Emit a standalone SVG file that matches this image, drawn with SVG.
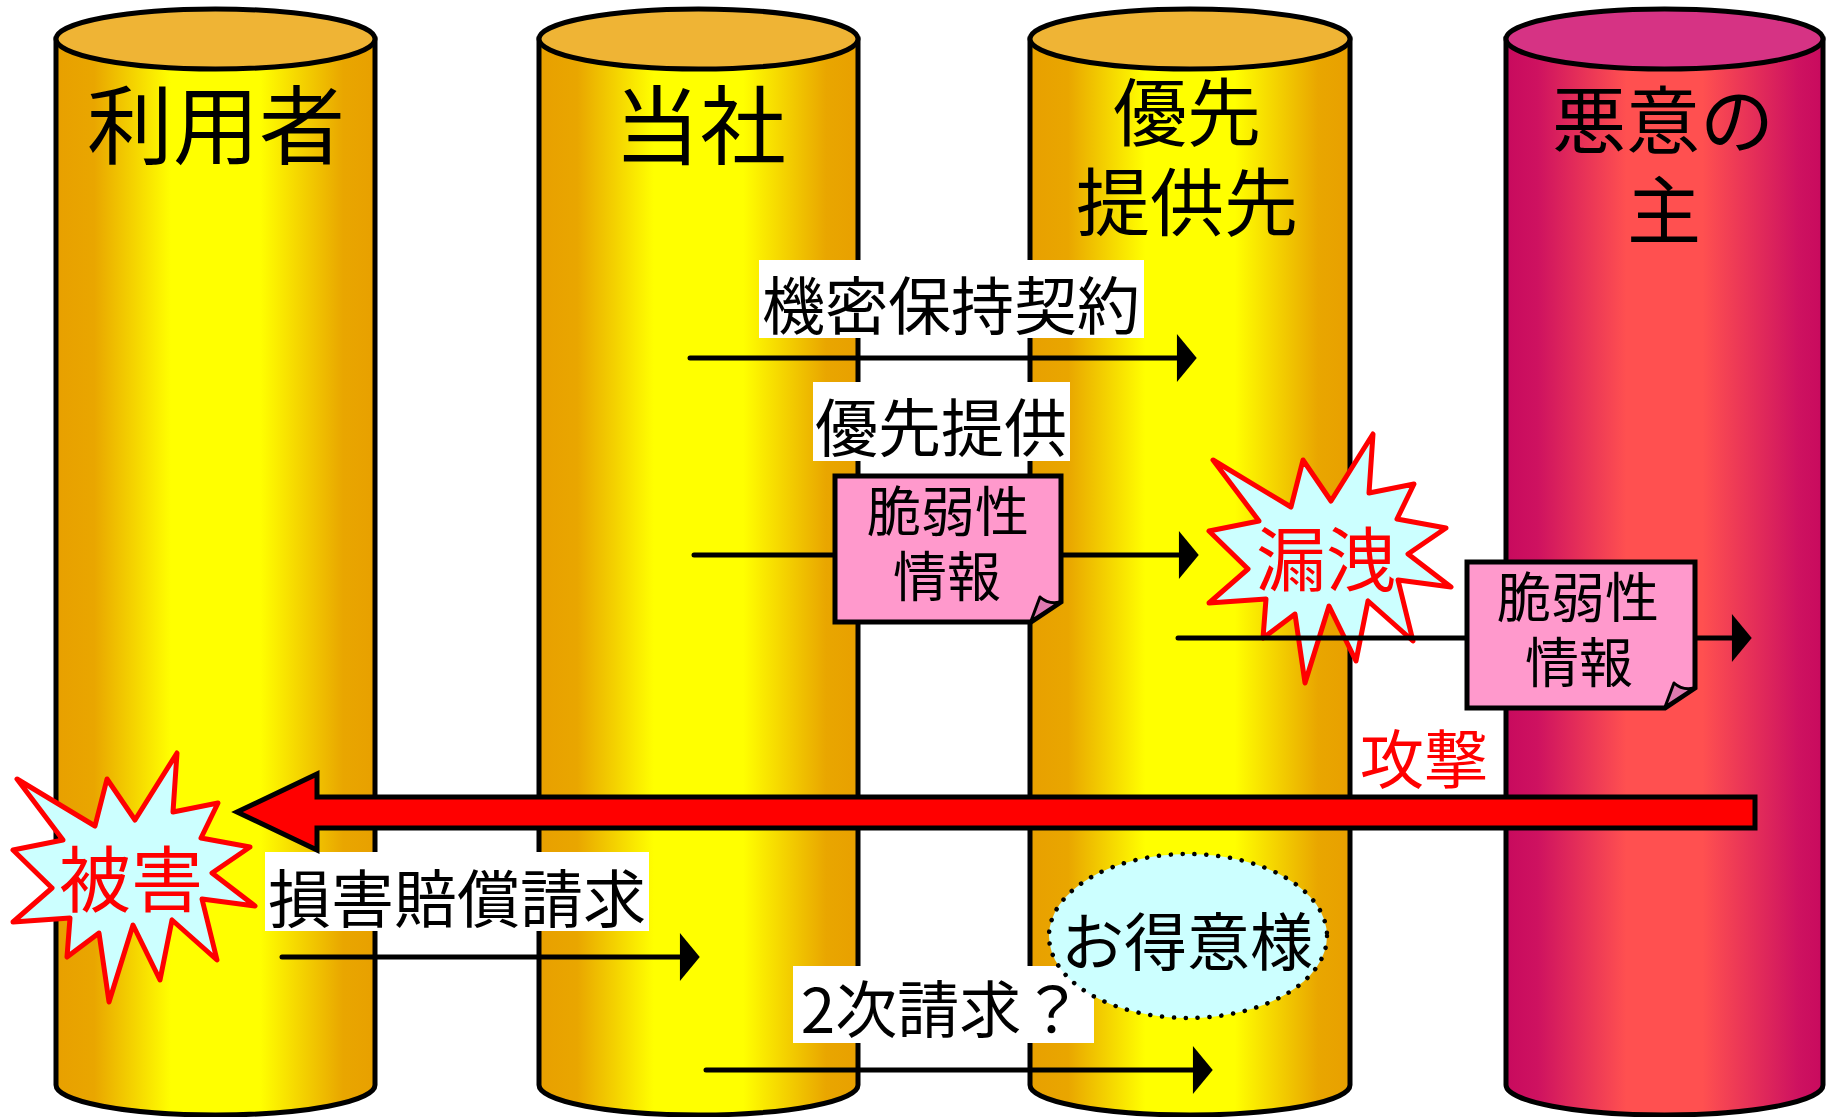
<svg xmlns="http://www.w3.org/2000/svg" width="1827" height="1117" viewBox="0 0 1827 1117">
<style>
.t{font-family:'Noto Sans CJK JP','Noto Sans CJK SC',sans-serif;text-anchor:middle;fill:#000}
.red{fill:#FF0000}
.cyl{stroke:#000;stroke-width:5}
.lbl{fill:#fff}
.doc{fill:#FF99CC;stroke:#000;stroke-width:5;stroke-linejoin:miter}
.fold{fill:#E07AB0;stroke:#000;stroke-width:3;stroke-linejoin:round}
.burst{fill:#CCFFFF;stroke:#FF0000;stroke-width:5;stroke-linejoin:round}
.ln{stroke:#000;stroke-width:5;stroke-linecap:round;fill:none}
</style>
<defs>
<linearGradient id="gy" x1="0" y1="0" x2="1" y2="0">
<stop offset="0" stop-color="#E8A000"/><stop offset="0.12" stop-color="#E9A600"/>
<stop offset="0.36" stop-color="#FFFF00"/><stop offset="0.64" stop-color="#FFFF00"/>
<stop offset="0.9" stop-color="#E9A600"/><stop offset="1" stop-color="#E8A000"/>
</linearGradient>
<linearGradient id="gr" x1="0" y1="0" x2="1" y2="0">
<stop offset="0" stop-color="#C80A5E"/><stop offset="0.1" stop-color="#CE1260"/>
<stop offset="0.38" stop-color="#FF5050"/><stop offset="0.62" stop-color="#FF5050"/>
<stop offset="0.92" stop-color="#CE1260"/><stop offset="1" stop-color="#C80A5E"/>
</linearGradient>
<marker id="ah" markerUnits="userSpaceOnUse" markerWidth="24" markerHeight="48" viewBox="0 0 20 46" refX="2" refY="23" orient="auto">
<path d="M0,0 L19,23 L0,46 Z" fill="#000"/>
</marker>
<path id="burst" d="M17,779 L95,826 L107,779 L135,820 L177,753 L173,812 L218,803 L201,838 L250,847 L212,873 L255,906 L202,899 L217,960 L172,920 L160,980 L133,925 L109,1002 L99,933 L67,957 L70,918 L13,922 L52,888 L13,850 L63,840 Z"/>
</defs>
<rect width="1827" height="1117" fill="#fff"/>

<g id="user">
<path class="cyl" fill="url(#gy)" d="M56,39 V1085 A159.5,30 0 0 0 375,1085 V39 Z"/>
<ellipse class="cyl" fill="#EFB435" cx="215.5" cy="39" rx="159.5" ry="30"/>
<text class="t" x="216" y="158" font-size="86">利用者</text>
</g>
<g id="company">
<path class="cyl" fill="url(#gy)" d="M539,39 V1085 A159.5,30 0 0 0 858,1085 V39 Z"/>
<ellipse class="cyl" fill="#EFB435" cx="698.5" cy="39" rx="159.5" ry="30"/>
<text class="t" x="700" y="158" font-size="86">当社</text>
</g>
<g id="priority">
<path class="cyl" fill="url(#gy)" d="M1030,39 V1085 A160,30 0 0 0 1350,1085 V39 Z"/>
<ellipse class="cyl" fill="#EFB435" cx="1190" cy="39" rx="160" ry="30"/>
<text class="t" x="1187" y="140" font-size="74">優先</text>
<text class="t" x="1187" y="230" font-size="74">提供先</text>
</g>
<g id="malicious">
<path class="cyl" fill="url(#gr)" d="M1506,39 V1085 A158.5,30 0 0 0 1823,1085 V39 Z"/>
<ellipse class="cyl" fill="#D63384" cx="1664.5" cy="39" rx="158.5" ry="30"/>
<text class="t" x="1663" y="148" font-size="74">悪意の</text>
<text class="t" x="1664" y="238" font-size="74">主</text>
</g>

<g id="label-nda">
<rect class="lbl" x="759" y="260" width="385" height="78"/>
<text class="t" x="951" y="329" font-size="63">機密保持契約</text>
</g>
<g id="label-priority">
<rect class="lbl" x="813" y="382" width="257" height="79"/>
<text class="t" x="941" y="451" font-size="63">優先提供</text>
</g>
<g id="label-claim">
<rect class="lbl" x="265" y="852" width="384" height="79"/>
<text class="t" x="457" y="922" font-size="63">損害賠償請求</text>
</g>
<g id="label-second">
<rect class="lbl" x="793" y="966" width="301" height="77"/>
<text class="t" x="942" y="1033" font-size="62">2次請求？</text>
</g>

<g id="leak">
<use href="#burst" class="burst" transform="translate(1196,-319)"/>
<text class="t red" x="1326" y="586" font-size="70">漏洩</text>
</g>
<g id="damage">
<use href="#burst" class="burst"/>
<text class="t red" x="131" y="906" font-size="72">被害</text>
</g>

<g id="connectors">
<line class="ln" x1="690" y1="358" x2="1179" y2="358" marker-end="url(#ah)"/>
<line class="ln" x1="694" y1="555" x2="1181" y2="555" marker-end="url(#ah)"/>
<line class="ln" x1="1178" y1="638" x2="1734" y2="638" marker-end="url(#ah)"/>
<line class="ln" x1="282" y1="957" x2="682" y2="957" marker-end="url(#ah)"/>
<line class="ln" x1="706" y1="1070" x2="1195" y2="1070" marker-end="url(#ah)"/>
<path d="M1755,797 H317 V774 L237,812 L317,850 V828 H1755 Z" fill="#FF0000" stroke="#000" stroke-width="5" stroke-linejoin="miter"/>
</g>

<g id="vuln-info-1">
<path class="doc" d="M835,476 H1061 V602 L1031,622 H835 Z"/>
<path class="fold" d="M1031,621 L1040,597 Q1049,605 1060,602 Z"/>
<text class="t" x="948" y="532" font-size="54">脆弱性</text>
<text class="t" x="947" y="597" font-size="54">情報</text>
</g>
<g id="vuln-info-2">
<path class="doc" d="M1467,562 H1695 V688 L1665,708 H1467 Z"/>
<path class="fold" d="M1665,707 L1674,683 Q1683,691 1694,688 Z"/>
<text class="t" x="1578" y="618" font-size="54">脆弱性</text>
<text class="t" x="1579" y="683" font-size="54">情報</text>
</g>
<g id="attack-label">
<text class="t red" x="1424" y="783" font-size="64">攻撃</text>
</g>
<g id="customer">
<ellipse cx="1188" cy="936" rx="139" ry="82" fill="#CCFFFF" stroke="#000" stroke-width="4.5" stroke-dasharray="0.1 11.8" stroke-linecap="round"/>
<text class="t" x="1187" y="965" font-size="63">お得意様</text>
</g>
</svg>
